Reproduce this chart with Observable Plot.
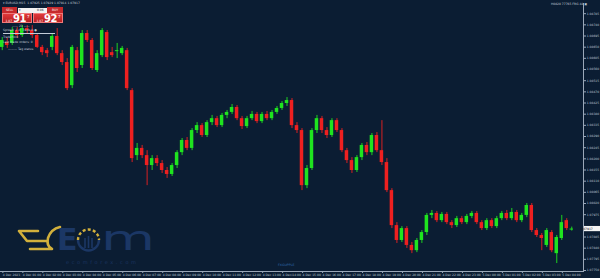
<!DOCTYPE html>
<html><head><meta charset="utf-8">
<script src="https://cdn.jsdelivr.net/npm/d3@7"></script>
<script src="https://cdn.jsdelivr.net/npm/@observablehq/plot@0.6"></script>
<style>
html,body{margin:0;padding:0;background:#0b1d33;}
#wrap{position:relative;width:600px;height:278px;overflow:hidden;font-family:"DejaVu Sans",sans-serif;}
#chart svg{display:block}
.ov{position:absolute;white-space:nowrap;line-height:1;}
.t3{font-size:3px;color:#c3ccd8;}
.btn{position:absolute;background:#c62a2c;color:#fff;font-size:3px;text-align:center;}
.big{position:absolute;top:13px;height:10px;width:30px;background:linear-gradient(#e0393b,#b81f22);border:0.5px solid #f07a7a;box-sizing:border-box;color:#fff;}
.big .s{position:absolute;font-size:3px;top:6px;line-height:1;}
.big .n{position:absolute;font-size:10px;font-weight:bold;top:-0.5px;letter-spacing:-0.5px;line-height:1;}
.big .p{position:absolute;font-size:4px;top:0.5px;line-height:1;}
</style></head><body>
<div id="wrap">
<div id="chart"></div>

<div class="ov t3" style="left:3px;top:2px;">▾ EURUSD,M15&nbsp; 1.07925 1.07929 1.07914 1.07917</div>
<div class="ov t3" style="left:551px;top:2.5px;">H0820 77765 FRG 44 ▣</div>

<div class="btn" style="left:2px;top:7px;width:15px;height:6px;line-height:6px;">SELL</div>
<div class="ov" style="left:18px;top:7.5px;width:29px;height:5px;background:#f2f2f2;"></div>
<div class="ov" style="left:19px;top:8.5px;font-size:3px;color:#333;">▾</div>
<div class="ov" style="left:37px;top:8.5px;font-size:3px;color:#222;">0.06</div>
<div class="btn" style="left:47px;top:7px;width:16px;height:6px;line-height:6px;">BUY</div>
<div class="big" style="left:2px;"><span class="s" style="left:2.5px;">1.07</span><span class="n" style="left:10px;">91</span><span class="p" style="left:24px;">7</span></div>
<div class="big" style="left:33px;"><span class="s" style="left:2.5px;">1.07</span><span class="n" style="left:10px;">92</span><span class="p" style="left:24px;">7</span></div>

<div class="ov t3" style="left:12px;top:24.5px;">—— 23 ——</div>
<div class="ov t3" style="left:3px;top:28.5px;">Spread: 1.0&nbsp; Trade 0 ●</div>
<div class="ov" style="left:3px;top:33px;width:52px;height:0.6px;background:#c3ccd8;"></div>
<div class="ov t3" style="left:3px;top:36px;">TradeHold</div>
<div class="ov t3" style="left:3px;top:40.5px;">Last trade orders: 0</div>
<div class="ov t3" style="left:8px;top:47.5px;">——— Tag status</div>

<svg class="ov" style="left:0;top:0;" width="600" height="278">
  <g fill="none" stroke="#d2b03c" stroke-width="2.6" stroke-linecap="round" stroke-linejoin="round">
    <path d="M38 231 H19 L27 241 H46"/>
    <path d="M30 249 H52 Q46 246 48 238 Q51 229 60 227"/>
  </g>
  <text x="57" y="250" font-size="30" font-family="DejaVu Sans" fill="#1b3765" font-weight="bold">E</text>
  <path d="M78 240 A10.5 10.5 0 0 1 99 240" fill="none" stroke="#d2b03c" stroke-width="2.4" stroke-dasharray="3 2.2"/>
  <path d="M78 240 A10.5 10.5 0 0 0 99 240" fill="none" stroke="#1b3765" stroke-width="2.4"/>
  <g stroke="#1b3765" stroke-width="1.6"><line x1="85" y1="238" x2="85" y2="248"/><line x1="88.5" y1="236" x2="88.5" y2="248"/><line x1="92" y1="238" x2="92" y2="248"/></g>
  <text x="101" y="249.5" font-size="34" font-family="DejaVu Sans" fill="#1b3765" textLength="54" lengthAdjust="spacingAndGlyphs">m</text>
  <text x="66" y="263.5" font-size="5" font-family="DejaVu Sans" fill="#1a3460" letter-spacing="2.6">ecomforex.com</text>
  <text x="278" y="265.5" font-size="3.2" font-family="DejaVu Sans" fill="#2f6bb0">FXGUPPLE</text>
</svg>
</div>
<script>
// candle OHLC values (EURUSD, 15-minute bars)
const opens = [1.08649,1.08669,1.08665,1.08717,1.08697,1.08725,1.08717,1.08697,1.08649,1.08636,
1.08649,1.08693,1.08624,1.08588,1.08495,1.08636,1.08576,1.08705,1.08677,1.08556,
1.08616,1.08709,1.08628,1.08632,1.08624,1.08636,1.08475,1.08213,1.08242,1.08213,
1.08173,1.08201,1.08181,1.08153,1.08137,1.08173,1.08225,1.08274,1.08242,1.08314,
1.08334,1.08294,1.08346,1.08362,1.08334,1.08375,1.08387,1.08407,1.08362,1.08330,
1.08362,1.08379,1.08350,1.08379,1.08362,1.08387,1.08403,1.08423,1.08435,1.08334,
1.08314,1.08092,1.08161,1.08314,1.08362,1.08314,1.08294,1.08354,1.08314,1.08233,
1.08193,1.08153,1.08205,1.08254,1.08225,1.08294,1.08233,1.08185,1.08072,1.07931,
1.07871,1.07919,1.07851,1.07830,1.07871,1.07903,1.07972,1.07980,1.07951,1.07976,
1.07943,1.07931,1.07959,1.07943,1.07968,1.07980,1.07943,1.07919,1.07951,1.07927,
1.07959,1.07980,1.07959,1.07984,1.07951,1.07972,1.08012,1.07911,1.07891,1.07851,
1.07903,1.07818,1.07879,1.07951,1.07913];
const highs = [1.08689,1.08685,1.08729,1.08729,1.08737,1.08737,1.08737,1.08705,1.08657,1.08645,
1.08705,1.08725,1.08636,1.08604,1.08657,1.08649,1.08717,1.08717,1.08685,1.08636,
1.08725,1.08717,1.08649,1.08665,1.08653,1.08645,1.08483,1.08262,1.08254,1.08233,
1.08213,1.08213,1.08193,1.08165,1.08181,1.08233,1.08282,1.08286,1.08322,1.08346,
1.08342,1.08354,1.08375,1.08371,1.08383,1.08395,1.08419,1.08415,1.08371,1.08371,
1.08391,1.08387,1.08387,1.08391,1.08395,1.08411,1.08431,1.08447,1.08443,1.08346,
1.08322,1.08173,1.08322,1.08375,1.08371,1.08326,1.08362,1.08362,1.08322,1.08242,
1.08205,1.08213,1.08262,1.08266,1.08302,1.08306,1.08354,1.08201,1.08080,1.07943,
1.07927,1.07927,1.07863,1.07879,1.07911,1.07980,1.07992,1.07988,1.07984,1.07984,
1.07951,1.07968,1.07968,1.07976,1.07988,1.07988,1.07951,1.07959,1.07959,1.07968,
1.07988,1.07992,1.08000,1.07992,1.07980,1.08020,1.08020,1.07919,1.07899,1.07919,
1.07911,1.07891,1.07972,1.07959,1.07925];
const lows = [1.08636,1.08645,1.08657,1.08685,1.08689,1.08705,1.08685,1.08645,1.08616,1.08608,
1.08636,1.08616,1.08576,1.08475,1.08483,1.08548,1.08564,1.08669,1.08556,1.08548,
1.08608,1.08596,1.08608,1.08604,1.08616,1.08475,1.08185,1.08193,1.08201,1.08092,
1.08153,1.08169,1.08141,1.08121,1.08129,1.08161,1.08213,1.08233,1.08233,1.08302,
1.08286,1.08286,1.08334,1.08326,1.08326,1.08362,1.08379,1.08354,1.08318,1.08322,
1.08354,1.08342,1.08342,1.08354,1.08354,1.08379,1.08395,1.08411,1.08322,1.08302,
1.08072,1.08080,1.08153,1.08302,1.08302,1.08282,1.08286,1.08306,1.08225,1.08181,
1.08141,1.08145,1.08193,1.08213,1.08213,1.08225,1.08173,1.08064,1.07919,1.07859,
1.07863,1.07839,1.07818,1.07822,1.07859,1.07891,1.07959,1.07943,1.07943,1.07935,
1.07919,1.07923,1.07935,1.07935,1.07959,1.07935,1.07911,1.07911,1.07919,1.07919,
1.07951,1.07951,1.07951,1.07943,1.07943,1.07963,1.07903,1.07883,1.07830,1.07843,
1.07822,1.07778,1.07871,1.07911,1.07909];
const closes = [1.08677,1.08657,1.08717,1.08697,1.08725,1.08717,1.08697,1.08649,1.08628,1.08624,
1.08693,1.08624,1.08588,1.08483,1.08649,1.08564,1.08705,1.08677,1.08564,1.08624,
1.08717,1.08608,1.08616,1.08636,1.08645,1.08483,1.08201,1.08242,1.08213,1.08173,
1.08201,1.08181,1.08153,1.08137,1.08173,1.08225,1.08274,1.08242,1.08314,1.08334,
1.08294,1.08346,1.08362,1.08334,1.08375,1.08387,1.08407,1.08362,1.08330,1.08362,
1.08379,1.08350,1.08379,1.08362,1.08387,1.08403,1.08423,1.08435,1.08334,1.08314,
1.08092,1.08161,1.08314,1.08362,1.08314,1.08294,1.08354,1.08314,1.08233,1.08193,
1.08153,1.08205,1.08254,1.08225,1.08294,1.08233,1.08185,1.08072,1.07931,1.07871,
1.07919,1.07851,1.07830,1.07871,1.07903,1.07972,1.07980,1.07951,1.07976,1.07943,
1.07931,1.07959,1.07943,1.07968,1.07980,1.07943,1.07919,1.07951,1.07927,1.07959,
1.07980,1.07959,1.07984,1.07951,1.07972,1.08012,1.07911,1.07891,1.07879,1.07911,
1.07830,1.07883,1.07943,1.07919,1.07917];

const timeLabels = ["4 Dec 2023","4 Dec 01:00","4 Dec 02:00","4 Dec 03:00","4 Dec 04:00","4 Dec 05:00",
"4 Dec 06:00","4 Dec 07:00","4 Dec 08:00","4 Dec 09:00","4 Dec 10:00","4 Dec 11:00","4 Dec 12:00",
"4 Dec 13:00","4 Dec 14:00","4 Dec 15:00","4 Dec 16:00","4 Dec 17:00","4 Dec 18:00","4 Dec 19:00",
"4 Dec 20:00","4 Dec 21:00","4 Dec 22:00","4 Dec 23:00","5 Dec 00:00","5 Dec 01:00","5 Dec 02:00",
"5 Dec 03:00","5 Dec 04:00"];
const barsPerLabel = 4;
const priceTicks = [1.07750,1.07795,1.07840,1.07885,1.07975,1.08020,1.08065,1.08110,1.08155,
1.08200,1.08245,1.08290,1.08335,1.08380,1.08425,1.08470,1.08515,1.08560,1.08605,1.08650,1.08695,
1.08740,1.08785];
const priceDomain = [1.07746, 1.08826];
const lastPrice = 1.07917;
const emptySlots = 2;

const green = "#1fe41f", red = "#ee2020";
const candles = opens.map((o, i) => ({i, open: o, high: highs[i], low: lows[i], close: closes[i]}));
const slots = d3.range(opens.length + emptySlots);
const labelBars = timeLabels.map((_, j) => j * barsPerLabel);
const col = d => d.close >= d.open ? green : red;

const chart = Plot.plot({
  width: 600, height: 278,
  marginLeft: 0, marginRight: 17, marginTop: 3, marginBottom: 7,
  style: {background: "#0b1d33", color: "#bcc6d2", fontFamily: "DejaVu Sans"},
  x: {type: "band", domain: slots, paddingInner: 0.3, paddingOuter: 0, axis: null},
  y: {domain: priceDomain, axis: null},
  marks: [
    Plot.frame({anchor: "bottom", stroke: "#9aa7b8"}),
    Plot.frame({anchor: "right", stroke: "#9aa7b8"}),
    Plot.axisX(labelBars, {anchor: "bottom", tickFormat: i => timeLabels[i / barsPerLabel],
      textAnchor: "start", dx: 0.6, tickSize: 2, tickPadding: 0.6, fontSize: 3, stroke: "#9aa7b8"}),
    Plot.axisY(priceTicks, {anchor: "right", tickFormat: d => d.toFixed(5),
      tickSize: 2, tickPadding: 1.2, fontSize: 3, stroke: "#9aa7b8"}),
    Plot.ruleX(candles, {x: "i", y1: "low", y2: "high", stroke: col, strokeWidth: 0.9}),
    Plot.barY(candles, {x: "i", y1: "open", y2: "close", fill: col})
  ]
});
document.getElementById("chart").appendChild(chart);

// current price marker on the price scale
const yScale = chart.scale("y");
const py = yScale.apply(lastPrice);
const svg = d3.select(chart);
svg.append("rect").attr("x", 584).attr("y", py - 2.6).attr("width", 16).attr("height", 5.2).attr("fill", "#f4f4f4");
svg.append("text").attr("x", 586.5).attr("y", py + 1.1).attr("font-size", 3).attr("fill", "#111")
  .attr("font-family", "DejaVu Sans").text(lastPrice.toFixed(5));
</script>
</body></html>
